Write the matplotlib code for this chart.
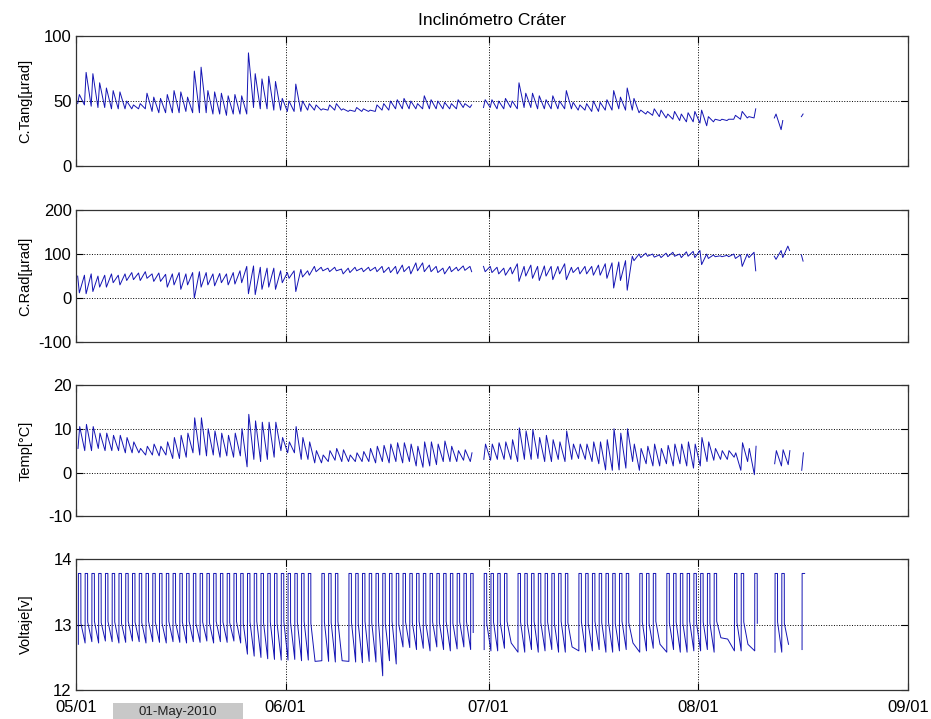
import numpy as np
import matplotlib
matplotlib.use('Agg')
from matplotlib import pyplot as plt
from matplotlib import font_manager
from matplotlib.patches import Rectangle

nan = np.nan

# x axis (days since 2010-05-01)
month_ticks = [0, 31, 61, 92, 123]
month_labels = ['05/01', '06/01', '07/01', '08/01', '09/01']
days = np.arange(108)

# C.Tang [urad]: daily base level and spike peak
tang_hi = [55, 72, 71, 64, 60, 58, 57, 50, 47, 48,
           56, 53, 52, 55, 58, 57, 53, 73, 76, 58,
           57, 56, 54, 55, 54, 87, 71, 67, 69, 65,
           52, 50, 63, 50, 48, 47, 44, 47, 48, 44,
           43, 45, 44, 43, 47, 48, 50, 51, 52, 50,
           48, 54, 51, 50, 49, 48, 51, 48, 47, nan,
           51, 51, 50, 52, 50, 64, 56, 56, 54, 51,
           54, 50, 58, 49, 47, 48, 50, 49, 51, 58,
           53, 60, 52, 43, 42, 44, 43, 40, 42, 40,
           41, 42, 43, 38, 36, 36, 36, 39, 42, 38,
           44, nan, nan, 40, 35, nan, nan, 40]
tang_lo = [48, 47, 46, 45, 45, 44, 44, 44, 44, 44,
           44, 42, 41, 41, 41, 41, 42, 41, 41, 41,
           40, 40, 39, 40, 40, 40, 45, 44, 44, 43,
           43, 42, 42, 42, 43, 43, 43, 43, 43, 43,
           42, 42, 42, 42, 42, 43, 43, 44, 44, 44,
           44, 44, 44, 44, 44, 44, 44, 45, 45, nan,
           45, 45, 44, 44, 45, 44, 45, 45, 44, 44,
           44, 44, 44, 44, 43, 43, 42, 42, 43, 43,
           44, 43, 43, 41, 40, 39, 38, 37, 36, 35,
           34, 34, 33, 31, 34, 35, 35, 36, 36, 37,
           37, nan, nan, 37, 28, nan, nan, 38]

# C.Rad [urad]: daily level and downward spike
rad_hi = [50, 52, 55, 50, 52, 55, 52, 55, 58, 57,
          60, 55, 57, 54, 55, 58, 55, 58, 60, 58,
          55, 56, 55, 58, 62, 72, 73, 70, 68, 68,
          62, 58, 62, 65, 62, 72, 70, 68, 70, 66,
          68, 70, 68, 70, 70, 72, 70, 72, 75, 72,
          80, 80, 75, 72, 68, 72, 70, 73, 72, nan,
          72, 72, 70, 68, 70, 78, 72, 75, 72, 73,
          72, 72, 78, 70, 70, 72, 72, 75, 78, 80,
          82, 85, 95, 100, 102, 100, 98, 102, 104, 100,
          105, 106, 108, 100, 98, 96, 97, 100, 98, 100,
          104, nan, nan, 95, 108, 118, nan, 98]
rad_lo = [12, 10, 15, 25, 25, 35, 30, 40, 42, 40,
          45, 38, 38, 25, 30, 20, 30, 0, 25, 30,
          28, 35, 30, 32, 35, 10, 8, 20, 25, 20,
          35, 45, 15, 48, 52, 60, 62, 60, 62, 55,
          58, 62, 60, 62, 60, 58, 58, 55, 60, 55,
          62, 60, 60, 58, 55, 60, 62, 63, 60, nan,
          60, 58, 55, 52, 55, 38, 50, 45, 40, 50,
          42, 55, 42, 58, 55, 55, 52, 52, 45, 23,
          40, 18, 85, 92, 95, 93, 92, 94, 95, 92,
          95, 92, 76, 90, 94, 94, 94, 90, 72, 92,
          62, nan, nan, 88, 92, 108, nan, 84]

# Temp [C]: daily min and max
temp_hi = [10.5, 11, 10.5, 9, 9, 8.5, 8.5, 8, 7, 5.5,
           6, 6.5, 6, 7, 8, 8.5, 9, 12.5, 12.5, 10,
           9.5, 9, 8.5, 9, 10, 13.3, 11.8, 11.5, 11.5, 11.5,
           8, 7, 10.5, 8, 7, 5, 4, 5, 5.5, 5.2,
           4, 4.5, 4.8, 5.5, 6, 6.2, 6.5, 6.8, 6.8, 6.5,
           6, 7, 7, 6.5, 7.2, 6, 5, 5.2, 4.5, nan,
           6.5, 6.5, 6.8, 7, 7.5, 10.2, 9.5, 9.8, 8, 8.5,
           7.5, 7, 9.5, 6.5, 6.5, 6.5, 7, 7, 7.5, 10,
           9, 10, 6.5, 5.5, 6, 6.5, 5.5, 6.2, 6.5, 6.5,
           7, 6.5, 8, 7, 5.5, 5, 5, 4.5, 6.8, 5.5,
           6, nan, nan, 5, 5.2, 5, nan, 4.5]
temp_lo = [5.5, 5, 5, 5.5, 5, 5, 5, 4.5, 4.5, 4.5,
           4, 4, 3.8, 4, 3.2, 3.2, 3.5, 4.5, 4, 3.8,
           4, 3.5, 3.8, 3.5, 3.8, 1.3, 3, 2.5, 3, 3.5,
           5, 4.5, 4.5, 3, 3, 2.2, 2.2, 2.5, 2.8, 2.5,
           2.5, 2.5, 2.5, 2.5, 2.2, 2.5, 2.2, 2.5, 2.2, 2.5,
           1.5, 1.2, 1.5, 1.8, 2.5, 2.5, 2.5, 2.8, 2.5, nan,
           3, 2.8, 3, 3, 3, 2.5, 3, 3, 3.2, 2.5,
           2.5, 3, 2.5, 3, 3.2, 3, 2.5, 2, 0.6, 0.5,
           0.6, 1, 2.5, 0.5, 2, 1.5, 1.5, 2, 1.5, 2,
           1.5, 1, 1.5, 2.5, 2.8, 3, 3, 3.5, 0.5, 2.5,
           -0.5, nan, nan, 2, 1.5, 1.8, nan, 0.5]

# Voltaje [V]: morning minimum, charge plateau (nan = no charge), level after drop
volt_lo = [12.70, 12.72, 12.74, 12.72, 12.75, 12.74, 12.72, 12.73, 12.75, 12.74,
           12.72, 12.74, 12.73, 12.72, 12.74, 12.73, 12.72, 12.74, 12.73, 12.75,
           12.72, 12.74, 12.73, 12.75, 12.72, 12.55, 12.52, 12.50, 12.48, 12.47,
           12.46, 12.46, 12.47, 12.45, 12.46, 12.44, 12.45, 12.44, 12.43, 12.45,
           12.44, 12.43, 12.42, 12.44, 12.43, 12.22, 12.45, 12.40, 12.66, 12.65,
           12.62, 12.64, 12.60, 12.66, 12.62, 12.60, 12.63, 12.66, 12.62, nan,
           12.62, 12.60, 12.60, 12.64, 12.72, 12.58, 12.58, 12.62, 12.58, 12.60,
           12.62, 12.58, 12.58, 12.66, 12.60, 12.58, 12.60, 12.62, 12.58, 12.58,
           12.60, 12.62, 12.72, 12.58, 12.60, 12.64, 12.70, 12.58, 12.62, 12.58,
           12.58, 12.60, 12.60, 12.62, 12.58, 12.80, 12.78, 12.60, 12.60, 12.70,
           12.60, nan, nan, 12.58, 12.58, 12.70, nan, 12.62]
volt_hi = [13.78, 13.78, 13.78, 13.78, 13.78, 13.78, 13.78, 13.78, 13.78, 13.78,
           13.78, 13.78, 13.78, 13.78, 13.78, 13.78, 13.78, 13.78, 13.78, 13.78,
           13.78, 13.78, 13.78, 13.78, 13.78, 13.78, 13.78, 13.78, 13.78, 13.78,
           13.78, 13.78, 13.78, 13.78, 13.78, nan, 13.78, 13.78, 13.78, nan,
           13.78, 13.78, 13.78, 13.78, 13.78, 13.78, 13.78, 13.78, 13.78, 13.78,
           13.78, 13.78, 13.78, 13.78, 13.78, 13.78, 13.78, 13.78, 13.78, nan,
           13.78, 13.78, 13.78, 13.78, nan, 13.78, 13.78, 13.78, 13.78, 13.78,
           13.78, 13.78, 13.78, nan, 13.78, 13.78, 13.78, 13.78, 13.78, 13.78,
           13.78, 13.78, nan, 13.78, 13.78, 13.78, nan, 13.78, 13.78, 13.78,
           13.78, 13.78, 13.78, 13.78, 13.78, nan, nan, 13.78, 13.78, nan,
           13.78, nan, nan, 13.78, 13.78, nan, nan, 13.78]
volt_drop = [13.02, 13.04, 13.05, 13.03, 13.05, 13.04, 13.02, 13.05, 13.04, 13.03,
             13.05, 13.04, 13.02, 13.05, 13.03, 13.04, 13.05, 13.02, 13.04, 13.03,
             13.05, 13.04, 13.03, 13.05, 13.02, 13.04, 13.05, 13.03, 13.04, 13.02,
             13.05, 13.03, 13.04, 13.05, 13.02, 13.00, 13.04, 13.03, 13.05, 13.00,
             13.04, 13.02, 13.05, 13.03, 13.04, 13.02, 13.05, 13.00, 13.04, 13.03,
             13.05, 13.02, 13.04, 13.03, 13.05, 13.02, 13.04, 13.05, 12.88, nan,
             13.02, 13.04, 13.03, 13.05, 13.00, 13.04, 13.02, 13.05, 13.03, 13.04,
             13.02, 13.05, 13.03, 13.00, 13.04, 13.02, 13.05, 13.03, 13.04, 13.02,
             13.05, 13.03, 13.00, 13.04, 13.02, 13.05, 13.00, 13.03, 13.04, 13.02,
             13.05, 13.03, 13.04, 13.02, 13.05, 13.00, 13.00, 13.03, 13.04, 13.00,
             13.02, nan, nan, 13.04, 13.02, 13.00, nan, 13.78]


def saw_trace(lo, hi, t_lo, t_hi):
    # one low and one high point per day, nan breaks the line
    x, y = [], []
    for d, a, b in zip(days, lo, hi):
        if np.isnan(a):
            x.append(d + 0.5)
            y.append(nan)
            continue
        x += [d + t_lo, d + t_hi]
        y += [a, b]
    return x, y


def volt_trace(lo, hi, drop):
    x, y = [], []
    for d, a, b, c in zip(days, lo, hi, drop):
        if np.isnan(a):
            x.append(d + 0.5)
            y.append(nan)
            continue
        x.append(d + 0.35)
        y.append(a)
        if not np.isnan(b):
            x += [d + 0.36, d + 0.72, d + 0.73]
            y += [b, b, c]
    return x, y


names = {f.name for f in font_manager.fontManager.ttflist}
has_narrow = 'Liberation Sans Narrow' in names
plt.rcParams['font.family'] = ['Liberation Sans', 'DejaVu Sans']
plt.rcParams['axes.unicode_minus'] = False

fig = plt.figure(figsize=(9.31, 7.19), dpi=100)
left, width = 0.0816, 0.8936
rows = [(0.769, 0.181), (0.524, 0.184), (0.282, 0.1825), (0.040, 0.1825)]
traces = [saw_trace(tang_lo, tang_hi, 0.25, 0.5),
          saw_trace(rad_hi, rad_lo, 0.25, 0.5),
          saw_trace(temp_lo, temp_hi, 0.3, 0.55),
          volt_trace(volt_lo, volt_hi, volt_drop)]
ylims = [(0, 100), (-100, 200), (-10, 20), (12, 14)]
yticks = [[0, 50, 100], [-100, 0, 100, 200], [-10, 0, 10, 20], [12, 13, 14]]
ylabels = ['C.Tang[µrad]', 'C.Rad[µrad]', 'Temp[°C]', 'Voltaje[v]']

for i, ((b, h), (x, y)) in enumerate(zip(rows, traces)):
    ax = fig.add_axes([left, b, width, h])
    ax.plot(x, y, color='#1414b4', lw=0.7)
    ax.set_xlim(month_ticks[0], month_ticks[-1])
    ax.set_ylim(*ylims[i])
    ax.set_xticks(month_ticks)
    ax.set_yticks(yticks[i])
    ax.grid(True, color='black', ls=':', lw=0.7)
    ax.tick_params(direction='in', top=True, right=True, length=5,
                   labelsize=12, pad=3)
    ax.tick_params(axis='x', pad=7)
    for s in ax.spines.values():
        s.set_linewidth(0.9)
        s.set_color('#333333')
    if i == 3:
        ax.set_xticklabels(month_labels)
    else:
        ax.set_xticklabels([])
    if has_narrow:
        ax.set_ylabel(ylabels[i], fontsize=12,
                      family=['Liberation Sans Narrow', 'DejaVu Sans'])
    else:
        ax.set_ylabel(ylabels[i], fontsize=10.5)
    ax.yaxis.set_label_coords(-0.052, 0.5)
    if i == 0:
        ax.set_title('Inclinómetro Cráter', fontsize=12.5, pad=8)

fig.patches.append(Rectangle((113 / 931, 0), 130 / 931, 16 / 719,
                             transform=fig.transFigure, facecolor='#c8c8c8',
                             edgecolor='none'))
fig.text(178 / 931, 1 - 706 / 719, '01-May-2010', ha='center', va='top',
         fontsize=9.5, color='#222222')

fig.savefig('out.png', dpi=100)
